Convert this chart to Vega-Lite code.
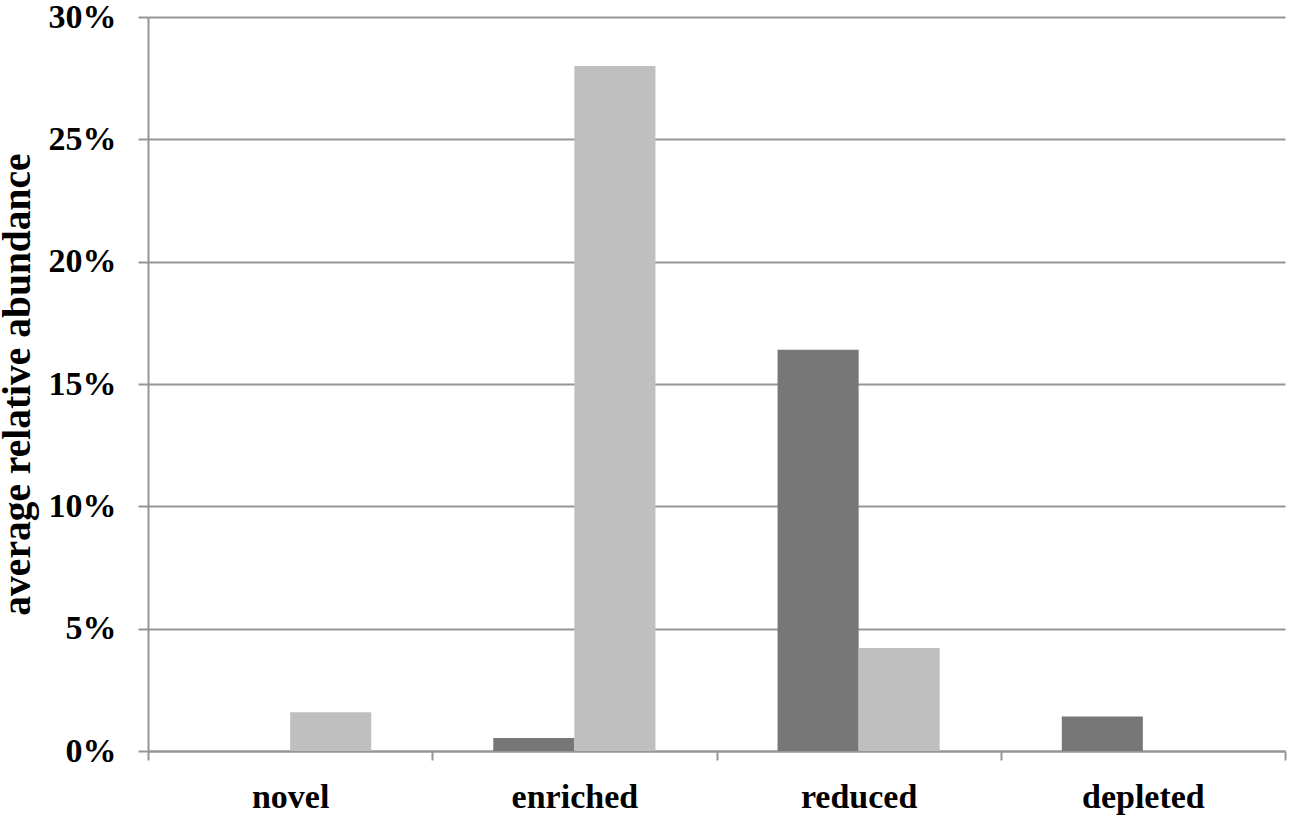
{
  "$schema": "https://vega.github.io/schema/vega-lite/v6.json",
  "autosize": "none",
  "padding": {"left": 148, "top": 17, "right": 8, "bottom": 71},
  "width": 1137,
  "height": 734,
  "background": "white",
  "config": {
    "view": {"stroke": null},
    "font": "Liberation Serif"
  },
  "data": {
    "values": [
      {"category": "novel", "series": "A", "value": 0},
      {"category": "novel", "series": "B", "value": 0.0158},
      {"category": "enriched", "series": "A", "value": 0.0053},
      {"category": "enriched", "series": "B", "value": 0.280},
      {"category": "reduced", "series": "A", "value": 0.164},
      {"category": "reduced", "series": "B", "value": 0.0421},
      {"category": "depleted", "series": "A", "value": 0.0141},
      {"category": "depleted", "series": "B", "value": 0}
    ]
  },
  "mark": {"type": "bar"},
  "encoding": {
    "x": {
      "field": "category",
      "type": "nominal",
      "sort": ["novel", "enriched", "reduced", "depleted"],
      "scale": {"paddingInner": 0, "paddingOuter": 0},
      "axis": {
        "title": null,
        "labelAngle": 0,
        "tickBand": "extent",
        "grid": false,
        "domainColor": "#969696",
        "domainWidth": 2,
        "tickColor": "#969696",
        "tickWidth": 2,
        "tickSize": 9,
        "labelPadding": 20,
        "labelFont": "Liberation Serif",
        "labelFontWeight": "bold",
        "labelFontSize": 34,
        "labelColor": "black"
      }
    },
    "xOffset": {
      "field": "series",
      "type": "nominal",
      "scale": {"paddingInner": 0, "paddingOuter": 0.753}
    },
    "y": {
      "field": "value",
      "type": "quantitative",
      "scale": {"domain": [0, 0.3]},
      "axis": {
        "title": "average relative abundance",
        "format": "0%",
        "values": [0, 0.05, 0.1, 0.15, 0.2, 0.25, 0.3],
        "grid": true,
        "gridColor": "#969696",
        "gridWidth": 2,
        "domainColor": "#969696",
        "domainWidth": 2,
        "tickColor": "#969696",
        "tickWidth": 2,
        "tickSize": 10,
        "labelPadding": 22,
        "labelFont": "Liberation Serif",
        "labelFontWeight": "bold",
        "labelFontSize": 34,
        "labelColor": "black",
        "titleFont": "Liberation Serif",
        "titleFontWeight": "bold",
        "titleFontSize": 39.5,
        "titleColor": "black",
        "titlePadding": 11
      }
    },
    "color": {
      "field": "series",
      "type": "nominal",
      "scale": {"domain": ["A", "B"], "range": ["#777777", "#bfbfbf"]},
      "legend": null
    }
  }
}
